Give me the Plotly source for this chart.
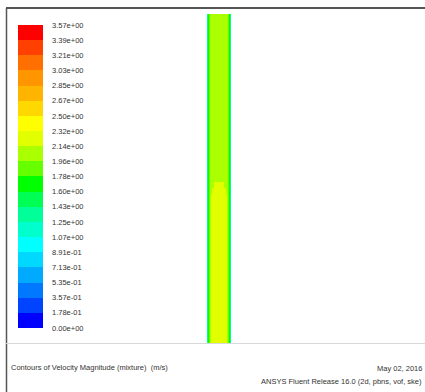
import plotly.graph_objects as go

W, H = 425, 392

# colorbar levels and labels (m/s)
levels = [0.0, 0.1785, 0.357, 0.5355, 0.714, 0.8925, 1.071, 1.2495, 1.428, 1.6065,
          1.785, 1.9635, 2.142, 2.3205, 2.499, 2.6775, 2.856, 3.0345, 3.213, 3.3915, 3.57]
level_labels = ["0.00e+00", "1.78e-01", "3.57e-01", "5.35e-01", "7.13e-01", "8.91e-01",
                "1.07e+00", "1.25e+00", "1.43e+00", "1.60e+00", "1.78e+00", "1.96e+00",
                "2.14e+00", "2.32e+00", "2.50e+00", "2.67e+00", "2.85e+00", "3.03e+00",
                "3.21e+00", "3.39e+00", "3.57e+00"]
band_colors = ["#0000ff", "#0044ff", "#0078ff", "#00aaff", "#00d8ff", "#00ffff", "#00ffcc",
               "#00ff99", "#00ff55", "#00ff00", "#66ff00", "#aaff00", "#e2ff00", "#ffff00",
               "#ffd800", "#ffb400", "#ff9600", "#ff7000", "#ff4000", "#ff0000"]

# pipe velocity field (columns across pipe, rows along pipe bottom->top)
pipe_x_edges = list(range(25))
pipe_y_edges = [0.0, 0.45, 0.47, 0.49, 1.0]
vel_lower = [1.3, 1.75, 1.9, 2.05] + [2.25] * 16 + [2.05, 1.9, 1.75, 1.3]
vel_trans1 = [1.3, 1.75, 1.9, 2.05, 2.05] + [2.25] * 14 + [2.05, 2.05, 1.9, 1.75, 1.3]
vel_trans2 = [1.3, 1.75, 1.9, 2.05, 2.05, 2.05, 2.05] + [2.25] * 10 + [2.05, 2.05, 2.05, 2.05, 1.9, 1.75, 1.3]
vel_upper = [1.3, 1.75, 1.9] + [2.05] * 18 + [1.9, 1.75, 1.3]

zmin, zmax = levels[0], levels[-1]
nb = len(band_colors)
cscale = []
for k, c in enumerate(band_colors):
    cscale.append([k / nb, c])
    cscale.append([(k + 1) / nb, c])

def px(x):
    return x / W

def py(y):
    return 1 - y / H

FONT = "Liberation Sans, Arial, sans-serif"

fig = go.Figure()
fig.add_trace(go.Heatmap(
    x=pipe_x_edges, y=pipe_y_edges, z=[vel_lower, vel_trans1, vel_trans2, vel_upper],
    colorscale=cscale, zmin=zmin, zmax=zmax, hoverinfo="skip",
    colorbar=dict(
        x=px(18), xanchor="left", xpad=0,
        y=py(25), yanchor="top", ypad=0,
        lenmode="pixels", len=303,
        thicknessmode="pixels", thickness=25,
        outlinewidth=0,
        tickvals=levels, ticktext=level_labels,
        ticks="outside", ticklen=8, tickcolor="rgba(0,0,0,0)",
        tickfont=dict(family=FONT, size=7.5, color="#333333"),
    ),
))

fig.update_layout(
    width=W, height=H,
    margin=dict(l=0, r=0, t=0, b=0),
    paper_bgcolor="white", plot_bgcolor="white",
    showlegend=False,
    xaxis=dict(domain=[px(207), px(231)], visible=False, range=[0, 24], fixedrange=True),
    yaxis=dict(domain=[py(343), py(14)], visible=False, range=[0, 1], fixedrange=True),
    shapes=[
        dict(type="line", xref="paper", yref="paper", x0=px(6), x1=1, y0=py(8), y1=py(8),
             line=dict(color="#555555", width=2)),
        dict(type="line", xref="paper", yref="paper", x0=px(6.5), x1=px(6.5), y0=py(8), y1=0,
             line=dict(color="#555555", width=1.5)),
        dict(type="line", xref="paper", yref="paper", x0=px(6), x1=1, y0=py(343.5), y1=py(343.5),
             line=dict(color="#d8d8d8", width=1)),
    ],
    annotations=[
        dict(text="Contours of Velocity Magnitude (mixture)  (m/s)", xref="paper", yref="paper",
             x=px(9), y=py(367), xanchor="left", yanchor="middle", showarrow=False,
             font=dict(family=FONT, size=7.5, color="#333333")),
        dict(text="May 02, 2016", xref="paper", yref="paper",
             x=px(424), y=py(368), xanchor="right", yanchor="middle", showarrow=False,
             font=dict(family=FONT, size=7.5, color="#333333")),
        dict(text="ANSYS Fluent Release 16.0 (2d, pbns, vof, ske)", xref="paper", yref="paper",
             x=px(424), y=py(381), xanchor="right", yanchor="middle", showarrow=False,
             font=dict(family=FONT, size=7.5, color="#333333")),
    ],
)

fig.write_html("out.html")
